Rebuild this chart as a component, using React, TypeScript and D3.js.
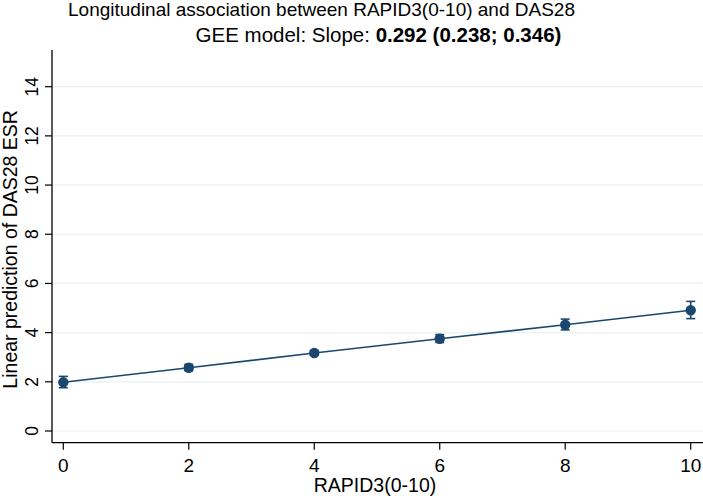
import React from "react";
import * as d3 from "d3";

const xValues = [0, 2, 4, 6, 8, 10];
const predicted = [1.98, 2.57, 3.17, 3.75, 4.32, 4.91];
const lowerCI = [1.76, 2.45, 3.08, 3.6, 4.11, 4.57];
const upperCI = [2.22, 2.71, 3.27, 3.92, 4.55, 5.27];
const xTicks = [0, 2, 4, 6, 8, 10];
const yTicks = [0, 2, 4, 6, 8, 10, 12, 14];

const titleLine1 = "Longitudinal association between RAPID3(0-10) and DAS28";
const titlePrefix = "GEE model: Slope: ";
const titleBold = "0.292 (0.238; 0.346)";
const xLabel = "RAPID3(0-10)";
const yLabel = "Linear prediction of DAS28 ESR";

const W = 703;
const H = 496;
const FONT = "'Liberation Sans', Arial, Helvetica, sans-serif";
const NAVY = "#1a476f";
const GRID = "#eaf2f3";

export default function App() {
  const x = d3.scaleLinear().domain([0, 10]).range([63.3, 690.7]);
  const y = d3.scaleLinear().domain([0, 14]).range([431, 86.7]);
  const plotLeft = 52;
  const plotRight = W;
  const plotTop = 50;
  const plotBottom = 442.7;

  const pts = xValues.map((v, i) => ({ x: v, p: predicted[i], lo: lowerCI[i], hi: upperCI[i] }));
  const line = d3
    .line<{ x: number; p: number }>()
    .x((d) => x(d.x))
    .y((d) => y(d.p));

  return (
    <svg
      width={W}
      height={H}
      style={{ position: "absolute", left: 0, top: 0, background: "#fff" }}
      fontFamily={FONT}
    >
      <rect x={0} y={0} width={W} height={H} fill="#fff" />
      {yTicks.map((t) => (
        <line key={"g" + t} x1={plotLeft + 1} x2={plotRight} y1={y(t)} y2={y(t)} stroke={GRID} strokeWidth={1.2} />
      ))}
      <line x1={plotLeft} x2={plotLeft} y1={plotTop} y2={plotBottom} stroke="#000" strokeWidth={1.3} />
      <line x1={plotLeft} x2={plotRight} y1={plotBottom} y2={plotBottom} stroke="#000" strokeWidth={1.3} />
      {yTicks.map((t) => (
        <g key={"yt" + t}>
          <line x1={plotLeft - 7} x2={plotLeft} y1={y(t)} y2={y(t)} stroke="#000" strokeWidth={1.2} />
          <text
            transform={`translate(37.5,${y(t)}) rotate(-90)`}
            textAnchor="middle"
            fontSize={17.5}
            fill="#000"
          >
            {t}
          </text>
        </g>
      ))}
      {xTicks.map((t) => (
        <g key={"xt" + t}>
          <line x1={x(t)} x2={x(t)} y1={plotBottom} y2={plotBottom + 7} stroke="#000" strokeWidth={1.2} />
          <text x={x(t)} y={471.5} textAnchor="middle" fontSize={19} fill="#000">
            {t}
          </text>
        </g>
      ))}
      <text x={375} y={491.5} textAnchor="middle" fontSize={19.5} fill="#000">
        {xLabel}
      </text>
      <text
        transform={`translate(16.5,${(plotTop + plotBottom) / 2 + 3}) rotate(-90)`}
        textAnchor="middle"
        fontSize={19.5}
        fill="#000"
      >
        {yLabel}
      </text>
      <text x={321.5} y={16} textAnchor="middle" fontSize={19} fill="#000">
        {titleLine1}
      </text>
      <text x={378.5} y={41.5} textAnchor="middle" fontSize={20.5} fill="#000">
        {titlePrefix}
        <tspan fontWeight="bold">{titleBold}</tspan>
      </text>
      <path d={line(pts) || ""} fill="none" stroke={NAVY} strokeWidth={1.6} />
      {pts.map((d) => (
        <g key={"e" + d.x} stroke={NAVY} strokeWidth={1.6}>
          <line x1={x(d.x)} x2={x(d.x)} y1={y(d.lo)} y2={y(d.hi)} />
          <line x1={x(d.x) - 4.5} x2={x(d.x) + 4.5} y1={y(d.lo)} y2={y(d.lo)} />
          <line x1={x(d.x) - 4.5} x2={x(d.x) + 4.5} y1={y(d.hi)} y2={y(d.hi)} />
        </g>
      ))}
      {pts.map((d) => (
        <circle key={"c" + d.x} cx={x(d.x)} cy={y(d.p)} r={5.2} fill={NAVY} />
      ))}
    </svg>
  );
}
